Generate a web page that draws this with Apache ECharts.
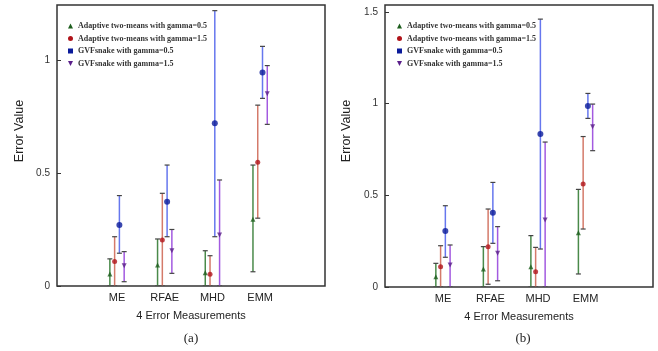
<!DOCTYPE html>
<html><head><meta charset="utf-8">
<script src="https://cdn.jsdelivr.net/npm/echarts@6/dist/echarts.min.js"></script>
<style>html,body{margin:0;padding:0;background:#fff}#c{width:658px;height:351px}</style>
</head><body><div id="c"></div>
<script>
// ---- data ----
const categories = ['ME', 'RFAE', 'MHD', 'EMM'];
const seriesNames = [
  'Adaptive two-means with gamma=0.5',
  'Adaptive two-means with gamma=1.5',
  'GVFsnake with gamma=0.5',
  'GVFsnake with gamma=1.5'
];
const yTicksA = [0, 0.5, 1];
const yTicksB = [0, 0.5, 1, 1.5];

// Panel (a)
const A_adapt05_mean = [0.053, 0.093, 0.059, 0.295];
const A_adapt05_low  = [0, 0, 0, 0.063];
const A_adapt05_high = [0.12, 0.208, 0.156, 0.535];
const A_adapt15_mean = [0.108, 0.204, 0.052, 0.547];
const A_adapt15_low  = [0, 0, 0, 0.30];
const A_adapt15_high = [0.218, 0.41, 0.134, 0.80];
const A_gvf05_mean = [0.27, 0.373, 0.72, 0.944];
const A_gvf05_low  = [0.145, 0.218, 0.218, 0.83];
const A_gvf05_high = [0.40, 0.535, 1.218, 1.06];
const A_gvf15_mean = [0.09, 0.156, 0.226, 0.85];
const A_gvf15_low  = [0.019, 0.056, 0, 0.715];
const A_gvf15_high = [0.152, 0.25, 0.469, 0.975];

// Panel (b)
const B_adapt05_mean = [0.056, 0.098, 0.111, 0.296];
const B_adapt05_low  = [0, 0, 0, 0.071];
const B_adapt05_high = [0.129, 0.22, 0.28, 0.532];
const B_adapt15_mean = [0.111, 0.22, 0.083, 0.561];
const B_adapt15_low  = [0, 0.015, 0, 0.316];
const B_adapt15_high = [0.225, 0.425, 0.216, 0.82];
const B_gvf05_mean = [0.305, 0.405, 0.834, 0.986];
const B_gvf05_low  = [0.162, 0.238, 0.207, 0.919];
const B_gvf05_high = [0.443, 0.57, 1.46, 1.055];
const B_gvf15_mean = [0.12, 0.184, 0.365, 0.874];
const B_gvf15_low  = [0, 0.034, 0, 0.743];
const B_gvf15_high = [0.229, 0.329, 0.79, 0.997];

// ---- styling ----
const lineColors = ['#4a8a4a', '#d47a6a', '#6677ee', '#a35ae0'];
const ptColors = ['#1d5e1d', '#b0141a', '#0a1a9a', '#5a1f8a'];
const symbols = ['triangle', 'circle', 'circle', 'path://M0,0 L10,0 L5,10 Z'];
const legendIcons = ['triangle', 'circle', 'rect', 'path://M0,0 L10,0 L5,10 Z'];
const symSizes = [5, 5, 6, 5];
const offsets = [-0.15, -0.05, 0.05, 0.15];

const panels = [
  { means: [A_adapt05_mean, A_adapt15_mean, A_gvf05_mean, A_gvf15_mean],
    lows: [A_adapt05_low, A_adapt15_low, A_gvf05_low, A_gvf15_low],
    highs: [A_adapt05_high, A_adapt15_high, A_gvf05_high, A_gvf15_high] },
  { means: [B_adapt05_mean, B_adapt15_mean, B_gvf05_mean, B_gvf15_mean],
    lows: [B_adapt05_low, B_adapt15_low, B_gvf05_low, B_gvf15_low],
    highs: [B_adapt05_high, B_adapt15_high, B_gvf05_high, B_gvf15_high] }
];

const series = [];
panels.forEach((p, pi) => {
  for (let s = 0; s < 4; s++) {
    const col = lineColors[s];
    series.push({
      type: 'custom', name: seriesNames[s], xAxisIndex: pi, yAxisIndex: pi, clip: true, z: 2,
      itemStyle: { color: ptColors[s] },
      renderItem: (params, api) => {
        const x = api.value(0);
        const lo = api.coord([x, api.value(1)]);
        const hi = api.coord([x, api.value(2)]);
        const cw = 2.5;
        return { type: 'group', children: [
          { type: 'line', shape: { x1: lo[0], y1: lo[1], x2: hi[0], y2: hi[1] }, style: { stroke: col, lineWidth: 1.5 } },
          { type: 'line', shape: { x1: hi[0] - cw, y1: hi[1], x2: hi[0] + cw, y2: hi[1] }, style: { stroke: '#444', lineWidth: 1.2 } },
          { type: 'line', shape: { x1: lo[0] - cw, y1: lo[1], x2: lo[0] + cw, y2: lo[1] }, style: { stroke: '#444', lineWidth: 1.2 } }
        ] };
      },
      data: categories.map((c, i) => [i + 1 + offsets[s], p.lows[s][i], p.highs[s][i]])
    });
    series.push({
      type: 'scatter', name: seriesNames[s], xAxisIndex: pi, yAxisIndex: pi, z: 3,
      symbol: symbols[s], symbolSize: symSizes[s],
      itemStyle: { color: ptColors[s] },
      data: categories.map((c, i) => [i + 1 + offsets[s], p.means[s][i]])
    });
  }
});

const grids = [
  { left: 57, top: 5, width: 268, height: 281 },
  { left: 385, top: 5, width: 268, height: 282 }
];
const xRanges = [[-0.258, 5.36], [-0.22, 5.42]];
const yMax = [1.243, 1.537];
const yTicks = [yTicksA, yTicksB];

const option = {
  animation: false,
  textStyle: { fontFamily: 'Liberation Sans, Arial, sans-serif' },
  grid: grids.map(g => Object.assign({ show: true, borderColor: '#333', borderWidth: 1.5, backgroundColor: '#fff' }, g)),
  xAxis: [0, 1].map(i => ({
    type: 'value', gridIndex: i, min: xRanges[i][0], max: xRanges[i][1],
    splitLine: { show: false }, axisLine: { show: false, onZero: false }, axisTick: { show: false },
    axisLabel: { customValues: [1, 2, 3, 4], formatter: v => categories[Math.round(v) - 1] || '',
      fontSize: 11, color: '#222', margin: 6 },
    name: '4 Error Measurements', nameLocation: 'middle', nameGap: 24,
    nameTextStyle: { fontSize: 11, color: '#222' }
  })),
  yAxis: [0, 1].map(i => ({
    type: 'value', gridIndex: i, min: 0, max: yMax[i],
    splitLine: { show: false }, axisLine: { show: false, onZero: false },
    axisTick: { show: true, inside: true, length: 4, customValues: yTicks[i], lineStyle: { color: '#333' } },
    axisLabel: { customValues: yTicks[i], formatter: v => String(v), fontSize: 10, color: '#333', margin: 7 }
  })),
  legend: [
    { left: 63, top: 16 }, { left: 392, top: 16 }
  ].map(l => Object.assign({
    orient: 'vertical', itemWidth: 5, itemHeight: 5, itemGap: 2.5,
    data: seriesNames.map((n, s) => ({ name: n, icon: legendIcons[s], itemStyle: { color: ptColors[s] } })),
    textStyle: { fontFamily: 'Liberation Serif, Times New Roman, serif', fontWeight: 'bold', fontSize: 8, color: '#333', lineHeight: 10 }
  }, l)),
  graphic: [
    { type: 'text', x: 20, y: 131, rotation: Math.PI / 2, style: { text: 'Error Value', fontSize: 12.5, fill: '#222', align: 'center', verticalAlign: 'middle', fontFamily: 'Liberation Sans, Arial, sans-serif' } },
    { type: 'text', x: 347, y: 131, rotation: Math.PI / 2, style: { text: 'Error Value', fontSize: 12.5, fill: '#222', align: 'center', verticalAlign: 'middle', fontFamily: 'Liberation Sans, Arial, sans-serif' } },
    { type: 'text', x: 191, y: 339, style: { text: '(a)', fontSize: 13, fill: '#222', align: 'center', verticalAlign: 'middle', fontFamily: 'Liberation Serif, Times New Roman, serif' } },
    { type: 'text', x: 523, y: 339, style: { text: '(b)', fontSize: 13, fill: '#222', align: 'center', verticalAlign: 'middle', fontFamily: 'Liberation Serif, Times New Roman, serif' } }
  ],
  series: series
};
const chart = echarts.init(document.getElementById('c'), null, { renderer: 'canvas' });
chart.setOption(option);
</script></body></html>
